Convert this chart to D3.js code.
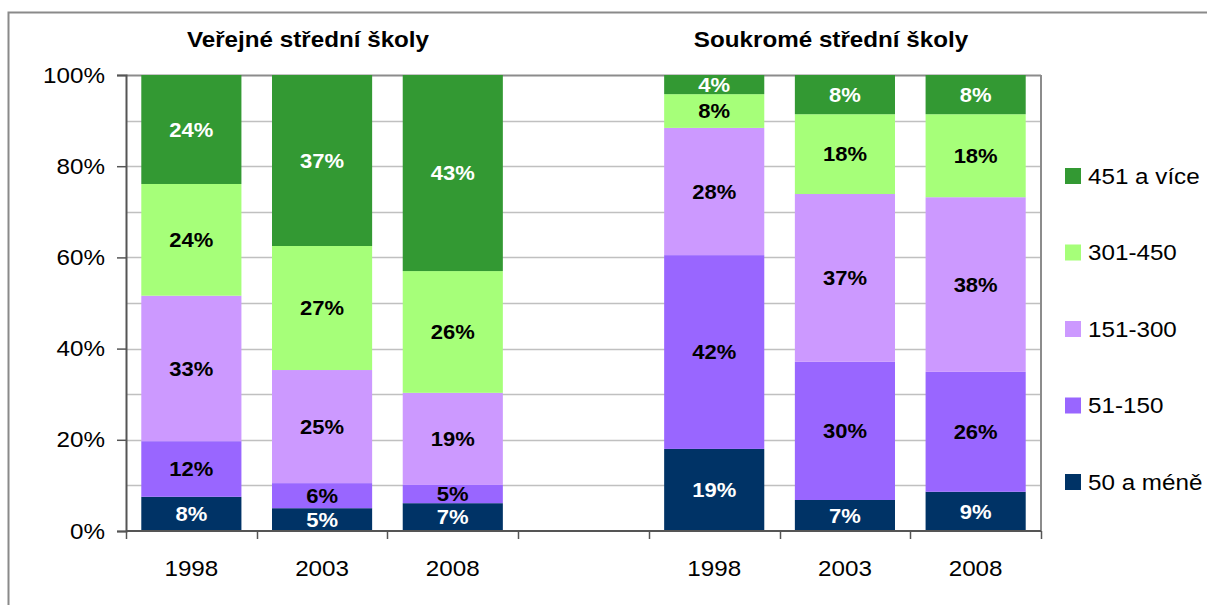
<!DOCTYPE html>
<html>
<head>
<meta charset="utf-8">
<script src="https://cdn.jsdelivr.net/npm/d3@7"></script>
<style>
  body { margin: 0; background: #fff; }
  text { font-family: "Liberation Sans", Arial, sans-serif; }
</style>
</head>
<body>
<script>
// categories (slot 3 is the empty gap between the two groups)
var slots = ["v1998", "v2003", "v2008", "gap", "s1998", "s2003", "s2008"];
var slotYears = ["1998", "2003", "2008", "", "1998", "2003", "2008"];
var groupTitles = ["Veřejné střední školy", "Soukromé střední školy"];

// series, bottom to top
var seriesNames = ["50 a méně", "51-150", "151-300", "301-450", "451 a více"];
var seriesColors = ["#003366", "#9966ff", "#cc99ff", "#a6ff79", "#339933"];
var labelColors = ["#fff", "#000", "#000", "#000", "#fff"];

// share of schools (%): v1998, v2003, v2008, gap, s1998, s2003, s2008
var size50 = [7.5, 5.0, 6.1, null, 18.0, 6.8, 8.6];
var size150 = [12.2, 5.5, 4.0, null, 42.5, 30.3, 26.3];
var size300 = [31.9, 24.8, 20.2, null, 27.9, 36.8, 38.3];
var size450 = [24.5, 27.2, 26.7, null, 7.4, 17.5, 18.2];
var size451 = [23.9, 37.5, 43.0, null, 4.2, 8.6, 8.6];

// the percent labels printed on the bars
var label50 = [8, 5, 7, null, 19, 7, 9];
var label150 = [12, 6, 5, null, 42, 30, 26];
var label300 = [33, 25, 19, null, 28, 37, 38];
var label450 = [24, 27, 26, null, 8, 18, 18];
var label451 = [24, 37, 43, null, 4, 8, 8];

var yTicks = [0, 20, 40, 60, 80, 100];
var yGrid = [10, 20, 30, 40, 50, 60, 70, 80, 90, 100];

var values = [size50, size150, size300, size450, size451];
var labels = [label50, label150, label300, label450, label451];

var width = 1207, height = 605;
var plot = {left: 126, right: 1041, top: 75, bottom: 531};

var svg = d3.select("body").append("svg")
    .attr("width", width)
    .attr("height", height);

// outer chart frame (runs off the right and bottom edge)
svg.append("rect")
    .attr("x", 8.5).attr("y", 12.5)
    .attr("width", 1300).attr("height", 700)
    .attr("fill", "none")
    .attr("stroke", "#8a8a8a")
    .attr("stroke-width", 2);

var x = d3.scaleBand()
    .domain(slots)
    .range([plot.left, plot.right])
    .paddingInner(0.234)
    .paddingOuter(0.117);

var y = d3.scaleLinear()
    .domain([0, 100])
    .range([plot.bottom, plot.top]);

// gridlines
svg.append("g").selectAll("line")
    .data(yGrid)
    .enter().append("line")
    .attr("x1", plot.left).attr("x2", plot.right)
    .attr("y1", function(d) { return Math.round(y(d)) + 0.5; })
    .attr("y2", function(d) { return Math.round(y(d)) + 0.5; })
    .attr("stroke", function(d) { return d == 100 ? "#8c8c8c" : "#c0c0c0"; })
    .attr("stroke-width", function(d) { return d == 100 ? 2 : 1.5; });

// right border of plot area
svg.append("line")
    .attr("x1", plot.right).attr("x2", plot.right)
    .attr("y1", plot.top).attr("y2", plot.bottom)
    .attr("stroke", "#8c8c8c").attr("stroke-width", 2);

// stack the rows
var rows = slots.map(function(s, i) {
    var row = {slot: s};
    seriesNames.forEach(function(n, j) { row[n] = values[j][i] || 0; });
    return row;
});
var stacked = d3.stack().keys(seriesNames)(rows);

var layers = svg.append("g").selectAll("g")
    .data(stacked)
    .enter().append("g")
    .attr("fill", function(d, i) { return seriesColors[i]; });

layers.selectAll("rect")
    .data(function(d) { return d.filter(function(p) { return p.data.slot != "gap"; }); })
    .enter().append("rect")
    .attr("x", function(d) { return x(d.data.slot); })
    .attr("width", x.bandwidth())
    .attr("y", function(d) { return y(d[1]); })
    .attr("height", function(d) { return y(d[0]) - y(d[1]); });

// value labels
stacked.forEach(function(layer, j) {
    svg.append("g").selectAll("text")
        .data(layer.filter(function(p) { return p.data.slot != "gap"; }))
        .enter().append("text")
        .attr("x", function(d) { return x(d.data.slot) + x.bandwidth() / 2; })
        .attr("y", function(d) { return (y(d[0]) + y(d[1])) / 2; })
        .attr("dy", "0.36em")
        .attr("text-anchor", "middle")
        .attr("font-size", 20)
        .attr("font-weight", "bold")
        .attr("fill", labelColors[j])
        .text(function(d) { return labels[j][slots.indexOf(d.data.slot)] + "%"; });
});

// y axis
var yAxis = svg.append("g")
    .attr("transform", "translate(" + plot.left + ",0)")
    .call(d3.axisLeft(y).tickValues(yTicks).tickSize(9).tickPadding(12)
        .tickFormat(function(d) { return d + "%"; }));
yAxis.select(".domain").attr("stroke", "#555").attr("stroke-width", 2);
yAxis.selectAll(".tick line").attr("stroke", "#555").attr("stroke-width", 1.5);
yAxis.selectAll(".tick text")
    .attr("font-size", 22)
    .attr("fill", "#000")
    .style("font-family", "'Liberation Sans', Arial, sans-serif");

// x axis: ticks between the categories
var step = x.step();
var xAxis = svg.append("g");
xAxis.append("line")
    .attr("x1", plot.left).attr("x2", plot.right)
    .attr("y1", plot.bottom).attr("y2", plot.bottom)
    .attr("stroke", "#555").attr("stroke-width", 2);
xAxis.selectAll(".xtick")
    .data(d3.range(slots.length + 1))
    .enter().append("line")
    .attr("class", "xtick")
    .attr("x1", function(i) { return Math.round(plot.left + i * step) + 0.5; })
    .attr("x2", function(i) { return Math.round(plot.left + i * step) + 0.5; })
    .attr("y1", plot.bottom).attr("y2", plot.bottom + 8)
    .attr("stroke", "#555").attr("stroke-width", 1.5);
xAxis.selectAll(".xlabel")
    .data(slots)
    .enter().append("text")
    .attr("class", "xlabel")
    .attr("x", function(d) { return x(d) + x.bandwidth() / 2; })
    .attr("y", 576)
    .attr("text-anchor", "middle")
    .attr("font-size", 22)
    .text(function(d, i) { return slotYears[i]; });

// group titles
svg.selectAll(".title")
    .data(groupTitles)
    .enter().append("text")
    .attr("class", "title")
    .attr("x", function(d, i) { return i == 0 ? 308 : 831; })
    .attr("y", 47)
    .attr("text-anchor", "middle")
    .attr("font-size", 22)
    .attr("font-weight", "bold")
    .text(function(d) { return d; });

// legend, top entry is the top series
var legend = svg.append("g").selectAll("g")
    .data(seriesNames.slice().reverse())
    .enter().append("g")
    .attr("transform", function(d, i) { return "translate(1065," + (176 + i * 76.5) + ")"; });
legend.append("rect")
    .attr("x", 0).attr("y", -8)
    .attr("width", 16).attr("height", 16)
    .attr("fill", function(d) { return seriesColors[seriesNames.indexOf(d)]; });
legend.append("text")
    .attr("x", 23).attr("y", 0)
    .attr("dy", "0.36em")
    .attr("font-size", 22)
    .text(function(d) { return d; });

// the original's lettering is a bit wider than Liberation Sans, stretch it
svg.selectAll("text").each(function() {
    var len = this.getComputedTextLength();
    if (len > 0) {
        d3.select(this)
            .attr("textLength", len * 1.1)
            .attr("lengthAdjust", "spacingAndGlyphs");
    }
});
</script>
</body>
</html>
